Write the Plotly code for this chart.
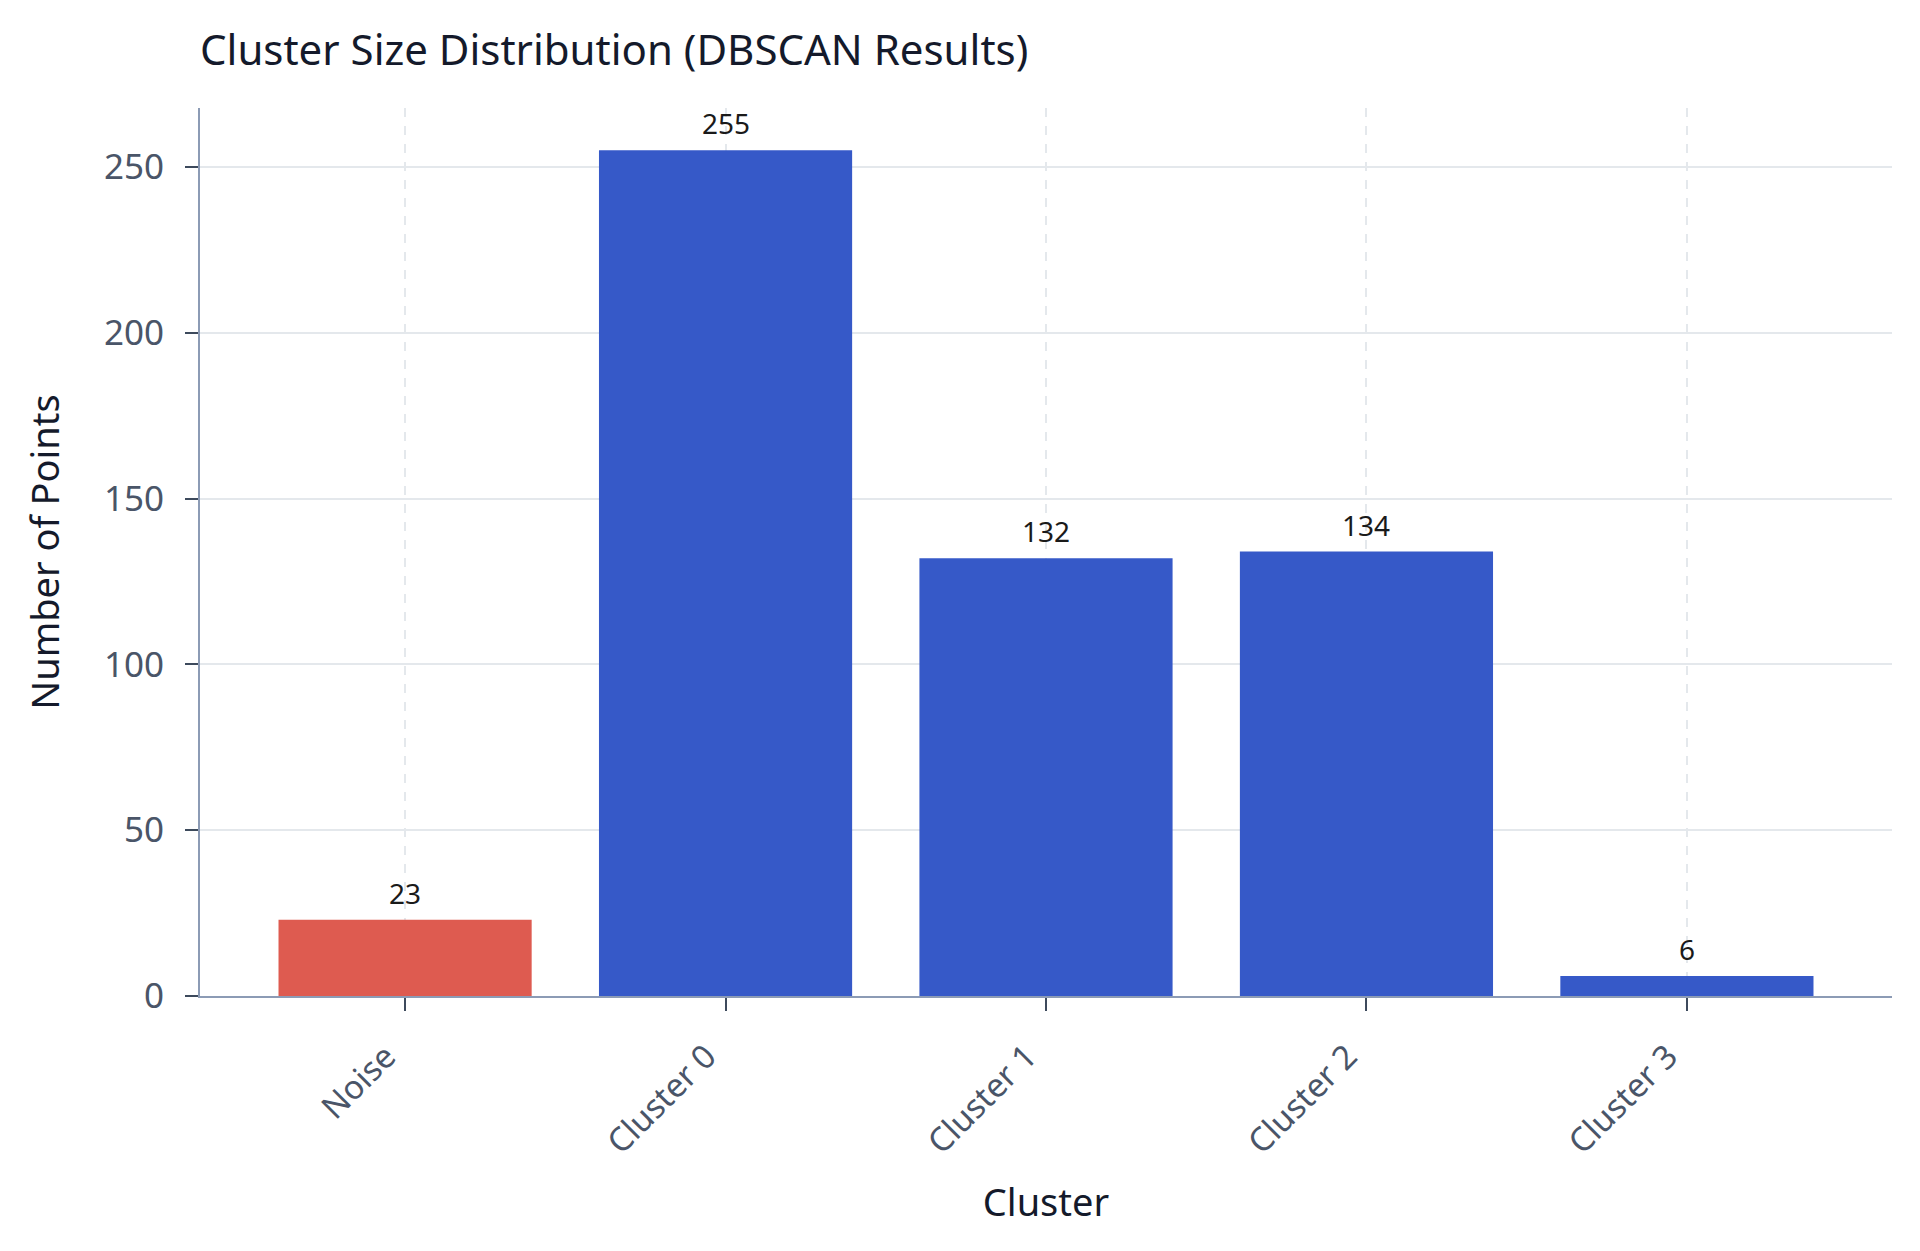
import plotly.graph_objects as go

categories = ["Noise", "Cluster 0", "Cluster 1", "Cluster 2", "Cluster 3"]
counts = [23, 255, 132, 134, 6]
bar_colors = ["#DE5B50", "#3659C8", "#3659C8", "#3659C8", "#3659C8"]
y_ticks = [0, 50, 100, 150, 200, 250]

FONT = "Noto Sans"

fig = go.Figure()
fig.add_trace(go.Bar(
    x=categories,
    y=counts,
    marker=dict(color=bar_colors, line=dict(width=0)),
    hoverinfo="x+y",
    showlegend=False,
))

for c, v in zip(categories, counts):
    fig.add_annotation(
        x=c, y=v, xref="x", yref="y",
        text=str(v), showarrow=False,
        yanchor="middle", yshift=27,
        font=dict(family=FONT, size=28, color="#1a1a1a"),
    )

fig.update_layout(
    width=1920, height=1251,
    paper_bgcolor="white", plot_bgcolor="white",
    margin=dict(l=192, r=36, t=100, b=263),
    bargap=0.21,
    font=dict(family=FONT, color="#1f2937"),
    title=dict(
        text="Cluster Size Distribution (DBSCAN Results)",
        x=0, xref="paper", xanchor="left",
        y=1 - 42 / 1251, yref="container", yanchor="middle",
        font=dict(family=FONT, size=42, color="#141a2b"),
    ),
    xaxis=dict(
        range=[-0.64, 4.64],
        title=dict(text="Cluster", font=dict(family=FONT, size=38, color="#141a2b"), standoff=28),
        tickangle=-45,
        tickfont=dict(family=FONT, size=33, color="#4a5568"),
        ticklabelstandoff=13,
        ticklabelshift=-19,
        showline=True, linecolor="#8c9bb5", linewidth=2,
        ticks="outside", ticklen=13, tickwidth=2, tickcolor="#3d4a5c",
        showgrid=True, gridcolor="#e4e8ec", gridwidth=1.5, griddash="dash",
        zeroline=False,
    ),
    yaxis=dict(
        range=[0, 267.75],
        tickvals=y_ticks,
        title=dict(text="Number of Points", font=dict(family=FONT, size=38, color="#141a2b"), standoff=33),
        tickfont=dict(family=FONT, size=35, color="#4a5568"),
        ticklabelstandoff=14,
        showline=True, linecolor="#8c9bb5", linewidth=2,
        ticks="outside", ticklen=13, tickwidth=2, tickcolor="#3d4a5c",
        showgrid=True, gridcolor="#e4e8ec", gridwidth=2,
        zeroline=False,
    ),
)

fig.write_html("out.html")
